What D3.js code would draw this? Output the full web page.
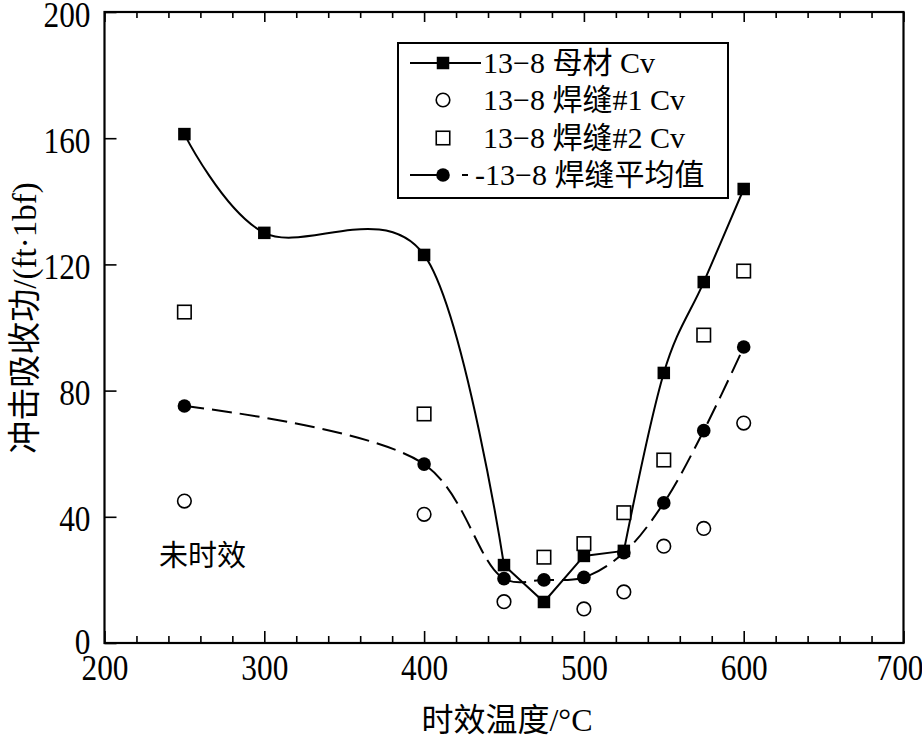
<!DOCTYPE html>
<html><head><meta charset="utf-8">
<script src="https://cdn.jsdelivr.net/npm/d3@7"></script>
<style>
html,body{margin:0;padding:0;background:#fff;}
svg{display:block;}
text{font-family:"Liberation Serif","Noto Sans CJK SC",serif;fill:#000;}
</style></head>
<body>
<svg id="c" width="922" height="743"></svg>
<script>
// ---- data ----
const baseTemps = [250, 300, 400, 450, 475, 500, 525, 550, 575, 600];
const baseCv    = [161.3, 130, 123, 24.7, 13, 27.6, 29.2, 85.6, 114.4, 143.9];
const weld1Temps = [250, 400, 450, 500, 525, 550, 575, 600];
const weld1Cv    = [45, 40.8, 13.1, 10.8, 16.2, 30.7, 36.3, 69.7];
const weld2Temps = [250, 400, 475, 500, 525, 550, 575, 600];
const weld2Cv    = [104.9, 72.6, 27.2, 31.5, 41.3, 58, 97.6, 117.9];
const avgTemps = [250, 400, 450, 475, 500, 525, 550, 575, 600];
const avgCv    = [75.1, 56.7, 20.4, 20, 20.8, 28.6, 44.4, 67.3, 93.8];
const xMajor = [200, 300, 400, 500, 600, 700];
const xMinor = d3.range(200, 701, 20);
const yMajor = [0, 40, 80, 120, 160, 200];
const legendLabels = ["13\u22128 母材 Cv", "13\u22128 焊缝#1 Cv", "13\u22128 焊缝#2 Cv", "-13\u22128 焊缝平均值"];
const xTitle = "时效温度/°C";
const yTitle = "冲击吸收功/(ft·1bf)";
const note = "未时效";

const svg = d3.select("#c");
const L = 104.5, R = 903.5, T = 12, B = 643;
const x = d3.scaleLinear().domain([200, 700]).range([L, R]);
const y = d3.scaleLinear().domain([0, 200]).range([B, T]);

// axes
const sx = 0.87;
svg.append("g").attr("transform", `translate(0,${B})`)
  .call(d3.axisBottom(x).tickValues(xMinor.filter(v => !xMajor.includes(v))).tickSize(-7).tickFormat(""));
const gB2 = svg.append("g").attr("transform", `translate(0,${B})`)
  .call(d3.axisBottom(x).tickValues(xMajor).tickSize(-12).tickPadding(0));
gB2.selectAll("text").attr("y", 37).attr("dy", null)
  .attr("x", d => d === 700 ? -4 / sx : 0)
  .attr("transform", `scale(${sx},1)`).style("font-size", "36px");
svg.append("g").attr("transform", `translate(0,${T})`)
  .call(d3.axisTop(x).tickValues(xMinor.filter(v => !xMajor.includes(v))).tickSize(-6).tickFormat(""));
svg.append("g").attr("transform", `translate(0,${T})`)
  .call(d3.axisTop(x).tickValues(xMajor).tickSize(-10).tickFormat(""));
const gL = svg.append("g").attr("transform", `translate(${L},0)`)
  .call(d3.axisLeft(y).tickValues(yMajor).tickSize(-12));
gL.selectAll("text").attr("x", -14 / sx).attr("dy", null).attr("y", d => d === 0 ? 10 : 14)
  .attr("transform", `scale(${sx},1)`).style("font-size", "36px");
svg.selectAll(".domain").remove();
svg.selectAll(".tick line").attr("stroke", "#000").attr("stroke-width", 1.6);
svg.selectAll(".tick text").attr("fill", "#000").attr("font-family", null);

// frame
svg.append("rect").attr("x", L).attr("y", T).attr("width", R - L).attr("height", B - T)
  .attr("fill", "none").attr("stroke", "#000").attr("stroke-width", 2.2);

// lines
const pts = (ts, vs) => ts.map((t, i) => [x(t), y(vs[i])]);
const basePts = pts(baseTemps, baseCv);
const lineCR = d3.line().curve(d3.curveCatmullRom.alpha(0));
const lineLin = d3.line();
svg.append("path").attr("d", lineCR(basePts.slice(0, 4))).attr("fill", "none").attr("stroke", "#000").attr("stroke-width", 2);
svg.append("path").attr("d", lineLin(basePts.slice(3, 7))).attr("fill", "none").attr("stroke", "#000").attr("stroke-width", 2);
svg.append("path").attr("d", lineCR(basePts.slice(6))).attr("fill", "none").attr("stroke", "#000").attr("stroke-width", 2);
svg.append("path").attr("d", d3.line().curve(d3.curveCatmullRom.alpha(0.5))(pts(avgTemps, avgCv)))
  .attr("fill", "none").attr("stroke", "#000")
  .attr("stroke-width", 2).attr("stroke-dasharray", "20,8");

// markers
const sq = 12.5, hsq = 13.5, r = 6.8;
svg.append("g").selectAll("rect").data(basePts).join("rect")
  .attr("x", d => d[0] - sq / 2).attr("y", d => d[1] - sq / 2).attr("width", sq).attr("height", sq).attr("fill", "#000");
svg.append("g").selectAll("circle").data(pts(avgTemps, avgCv)).join("circle")
  .attr("cx", d => d[0]).attr("cy", d => d[1]).attr("r", r).attr("fill", "#000");
svg.append("g").selectAll("circle").data(pts(weld1Temps, weld1Cv)).join("circle")
  .attr("cx", d => d[0]).attr("cy", d => d[1]).attr("r", r).attr("fill", "#fff").attr("stroke", "#000").attr("stroke-width", 1.6);
svg.append("g").selectAll("rect").data(pts(weld2Temps, weld2Cv)).join("rect")
  .attr("x", d => d[0] - hsq / 2).attr("y", d => d[1] - hsq / 2).attr("width", hsq).attr("height", hsq)
  .attr("fill", "#fff").attr("stroke", "#000").attr("stroke-width", 1.6);

// legend
const lg = svg.append("g");
lg.append("rect").attr("x", 398).attr("y", 43).attr("width", 330).attr("height", 155)
  .attr("fill", "#fff").attr("stroke", "#000").attr("stroke-width", 2);
const rowsY = [63, 100, 138, 175];
lg.append("line").attr("x1", 410).attr("x2", 481).attr("y1", rowsY[0]).attr("y2", rowsY[0]).attr("stroke", "#000").attr("stroke-width", 2);
lg.append("rect").attr("x", 443 - sq / 2).attr("y", rowsY[0] - sq / 2).attr("width", sq).attr("height", sq).attr("fill", "#000");
lg.append("circle").attr("cx", 443).attr("cy", rowsY[1]).attr("r", r).attr("fill", "#fff").attr("stroke", "#000").attr("stroke-width", 1.6);
lg.append("rect").attr("x", 443 - hsq / 2).attr("y", rowsY[2] - hsq / 2).attr("width", hsq).attr("height", hsq)
  .attr("fill", "#fff").attr("stroke", "#000").attr("stroke-width", 1.6);
lg.append("line").attr("x1", 410).attr("x2", 468).attr("y1", rowsY[3]).attr("y2", rowsY[3]).attr("stroke", "#000")
  .attr("stroke-width", 2).attr("stroke-dasharray", "27,25");
lg.append("circle").attr("cx", 443).attr("cy", rowsY[3]).attr("r", r).attr("fill", "#000");
legendLabels.forEach((t, i) => {
  lg.append("text").attr("x", i === 3 ? 475 : 483).attr("y", rowsY[i] + 10).style("font-size", "30px").text(t);
});

// annotation
svg.append("text").attr("x", 159).attr("y", 566).style("font-size", "29px").text(note);

// axis titles
svg.append("text").attr("x", 507).attr("y", 731).attr("text-anchor", "middle").style("font-size", "32px").text(xTitle);
svg.append("text").attr("transform", "translate(36,318) rotate(-90)").attr("text-anchor", "middle")
  .style("font-size", "33px").text(yTitle);
</script>
</body></html>
